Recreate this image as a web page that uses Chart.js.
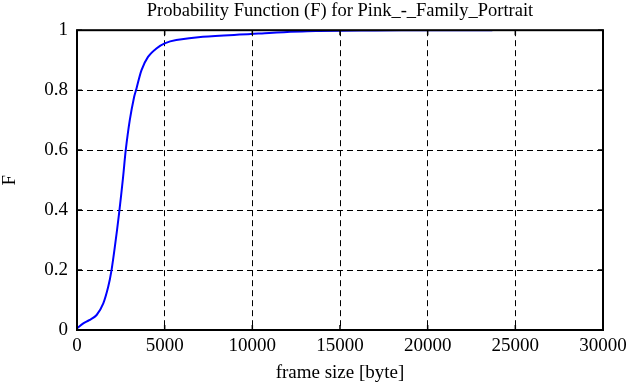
<!DOCTYPE html>
<html>
<head>
<meta charset="utf-8">
<script src="https://cdn.jsdelivr.net/npm/chart.js@4/dist/chart.umd.min.js"></script>
<style>
  html, body { margin: 0; padding: 0; background: #fff; }
  #wrap { width: 634px; height: 385px; }
</style>
</head>
<body>
<div id="wrap"><canvas id="grafico"></canvas></div>
<script>
// --- DATOS ---
const frameSize = [0, 360, 700, 1120, 1500, 1780, 1970, 2160, 2400, 2630, 2780, 3010, 3260, 3390,
  3680, 4050, 4530, 5000, 5660, 7180, 9920, 10960, 13620, 17000, 20000, 23690];
const probF = [0.006, 0.022, 0.033, 0.05, 0.089, 0.144, 0.2, 0.278, 0.389, 0.511, 0.6, 0.7, 0.778, 0.805,
  0.867, 0.911, 0.939, 0.956, 0.967, 0.978, 0.987, 0.991, 0.997, 0.999, 1.0, 1.0];
const xTicks = [0, 5000, 10000, 15000, 20000, 25000, 30000];
const yTicks = [0, 0.2, 0.4, 0.6, 0.8, 1];

const FONT = '"Liberation Serif", "DejaVu Serif", serif';
const SIZE = 19;

// marco y marcas interiores al estilo gnuplot; titulo centrado sobre el area del grafico
const marco = {
  id: 'marco',
  afterLayout(chart) {
    const a = chart.chartArea;
    if (chart.titleBlock) {
      chart.titleBlock.left = a.left;
      chart.titleBlock.right = a.right;
    }
  },
  afterDraw(chart) {
    const { ctx, chartArea: a, scales } = chart;
    ctx.save();
    ctx.strokeStyle = '#000';
    ctx.lineWidth = 2;
    ctx.strokeRect(a.left, a.top, a.right - a.left, a.bottom - a.top);
    ctx.lineWidth = 1.5;
    ctx.beginPath();
    xTicks.forEach(v => {
      const x = scales.x.getPixelForValue(v);
      ctx.moveTo(x, a.bottom); ctx.lineTo(x, a.bottom - 5);
      ctx.moveTo(x, a.top); ctx.lineTo(x, a.top + 5);
    });
    yTicks.forEach(v => {
      const y = scales.y.getPixelForValue(v);
      ctx.moveTo(a.left, y); ctx.lineTo(a.left + 5, y);
      ctx.moveTo(a.right, y); ctx.lineTo(a.right - 5, y);
    });
    ctx.stroke();
    ctx.restore();
  }
};

new Chart(document.getElementById('grafico'), {
  type: 'line',
  data: {
    datasets: [{
      data: frameSize.map((x, i) => ({ x: x, y: probF[i] })),
      borderColor: '#0000ff',
      borderWidth: 2,
      pointRadius: 0,
      tension: 0.3,
      fill: false
    }]
  },
  options: {
    responsive: true,
    maintainAspectRatio: false,
    animation: false,
    layout: { padding: { left: 0, right: 31, top: 0, bottom: 0 } },
    plugins: {
      legend: { display: false },
      tooltip: { enabled: false },
      title: {
        display: true,
        text: 'Probability Function (F) for Pink_-_Family_Portrait',
        color: '#000',
        font: { family: FONT, size: 18.5, weight: 'normal' },
        padding: { top: 0, bottom: 8 }
      }
    },
    scales: {
      x: {
        type: 'linear',
        min: 0, max: 30000,
        afterBuildTicks: s => { s.ticks = xTicks.map(v => ({ value: v })); },
        afterFit: s => { s.height = 55; },
        grid: { color: '#000', lineWidth: 1, drawTicks: false },
        border: { display: false, dash: [6, 4] },
        ticks: {
          color: '#000',
          font: { family: FONT, size: SIZE },
          padding: 5,
          maxRotation: 0,
          callback: v => String(v)
        },
        title: {
          display: true,
          text: 'frame size [byte]',
          color: '#000',
          font: { family: FONT, size: SIZE },
          padding: { top: 2, bottom: 1 }
        }
      },
      y: {
        type: 'linear',
        min: 0, max: 1,
        afterBuildTicks: s => { s.ticks = yTicks.map(v => ({ value: v })); },
        afterFit: s => { s.width = 77; },
        grid: { color: '#000', lineWidth: 1, drawTicks: false },
        border: { display: false, dash: [6, 4] },
        ticks: {
          color: '#000',
          font: { family: FONT, size: SIZE },
          padding: 9,
          callback: v => String(v)
        },
        title: {
          display: true,
          text: 'F',
          color: '#000',
          font: { family: FONT, size: SIZE },
          padding: { top: -1, bottom: 16 }
        }
      }
    }
  },
  plugins: [marco]
});
</script>
</body>
</html>
